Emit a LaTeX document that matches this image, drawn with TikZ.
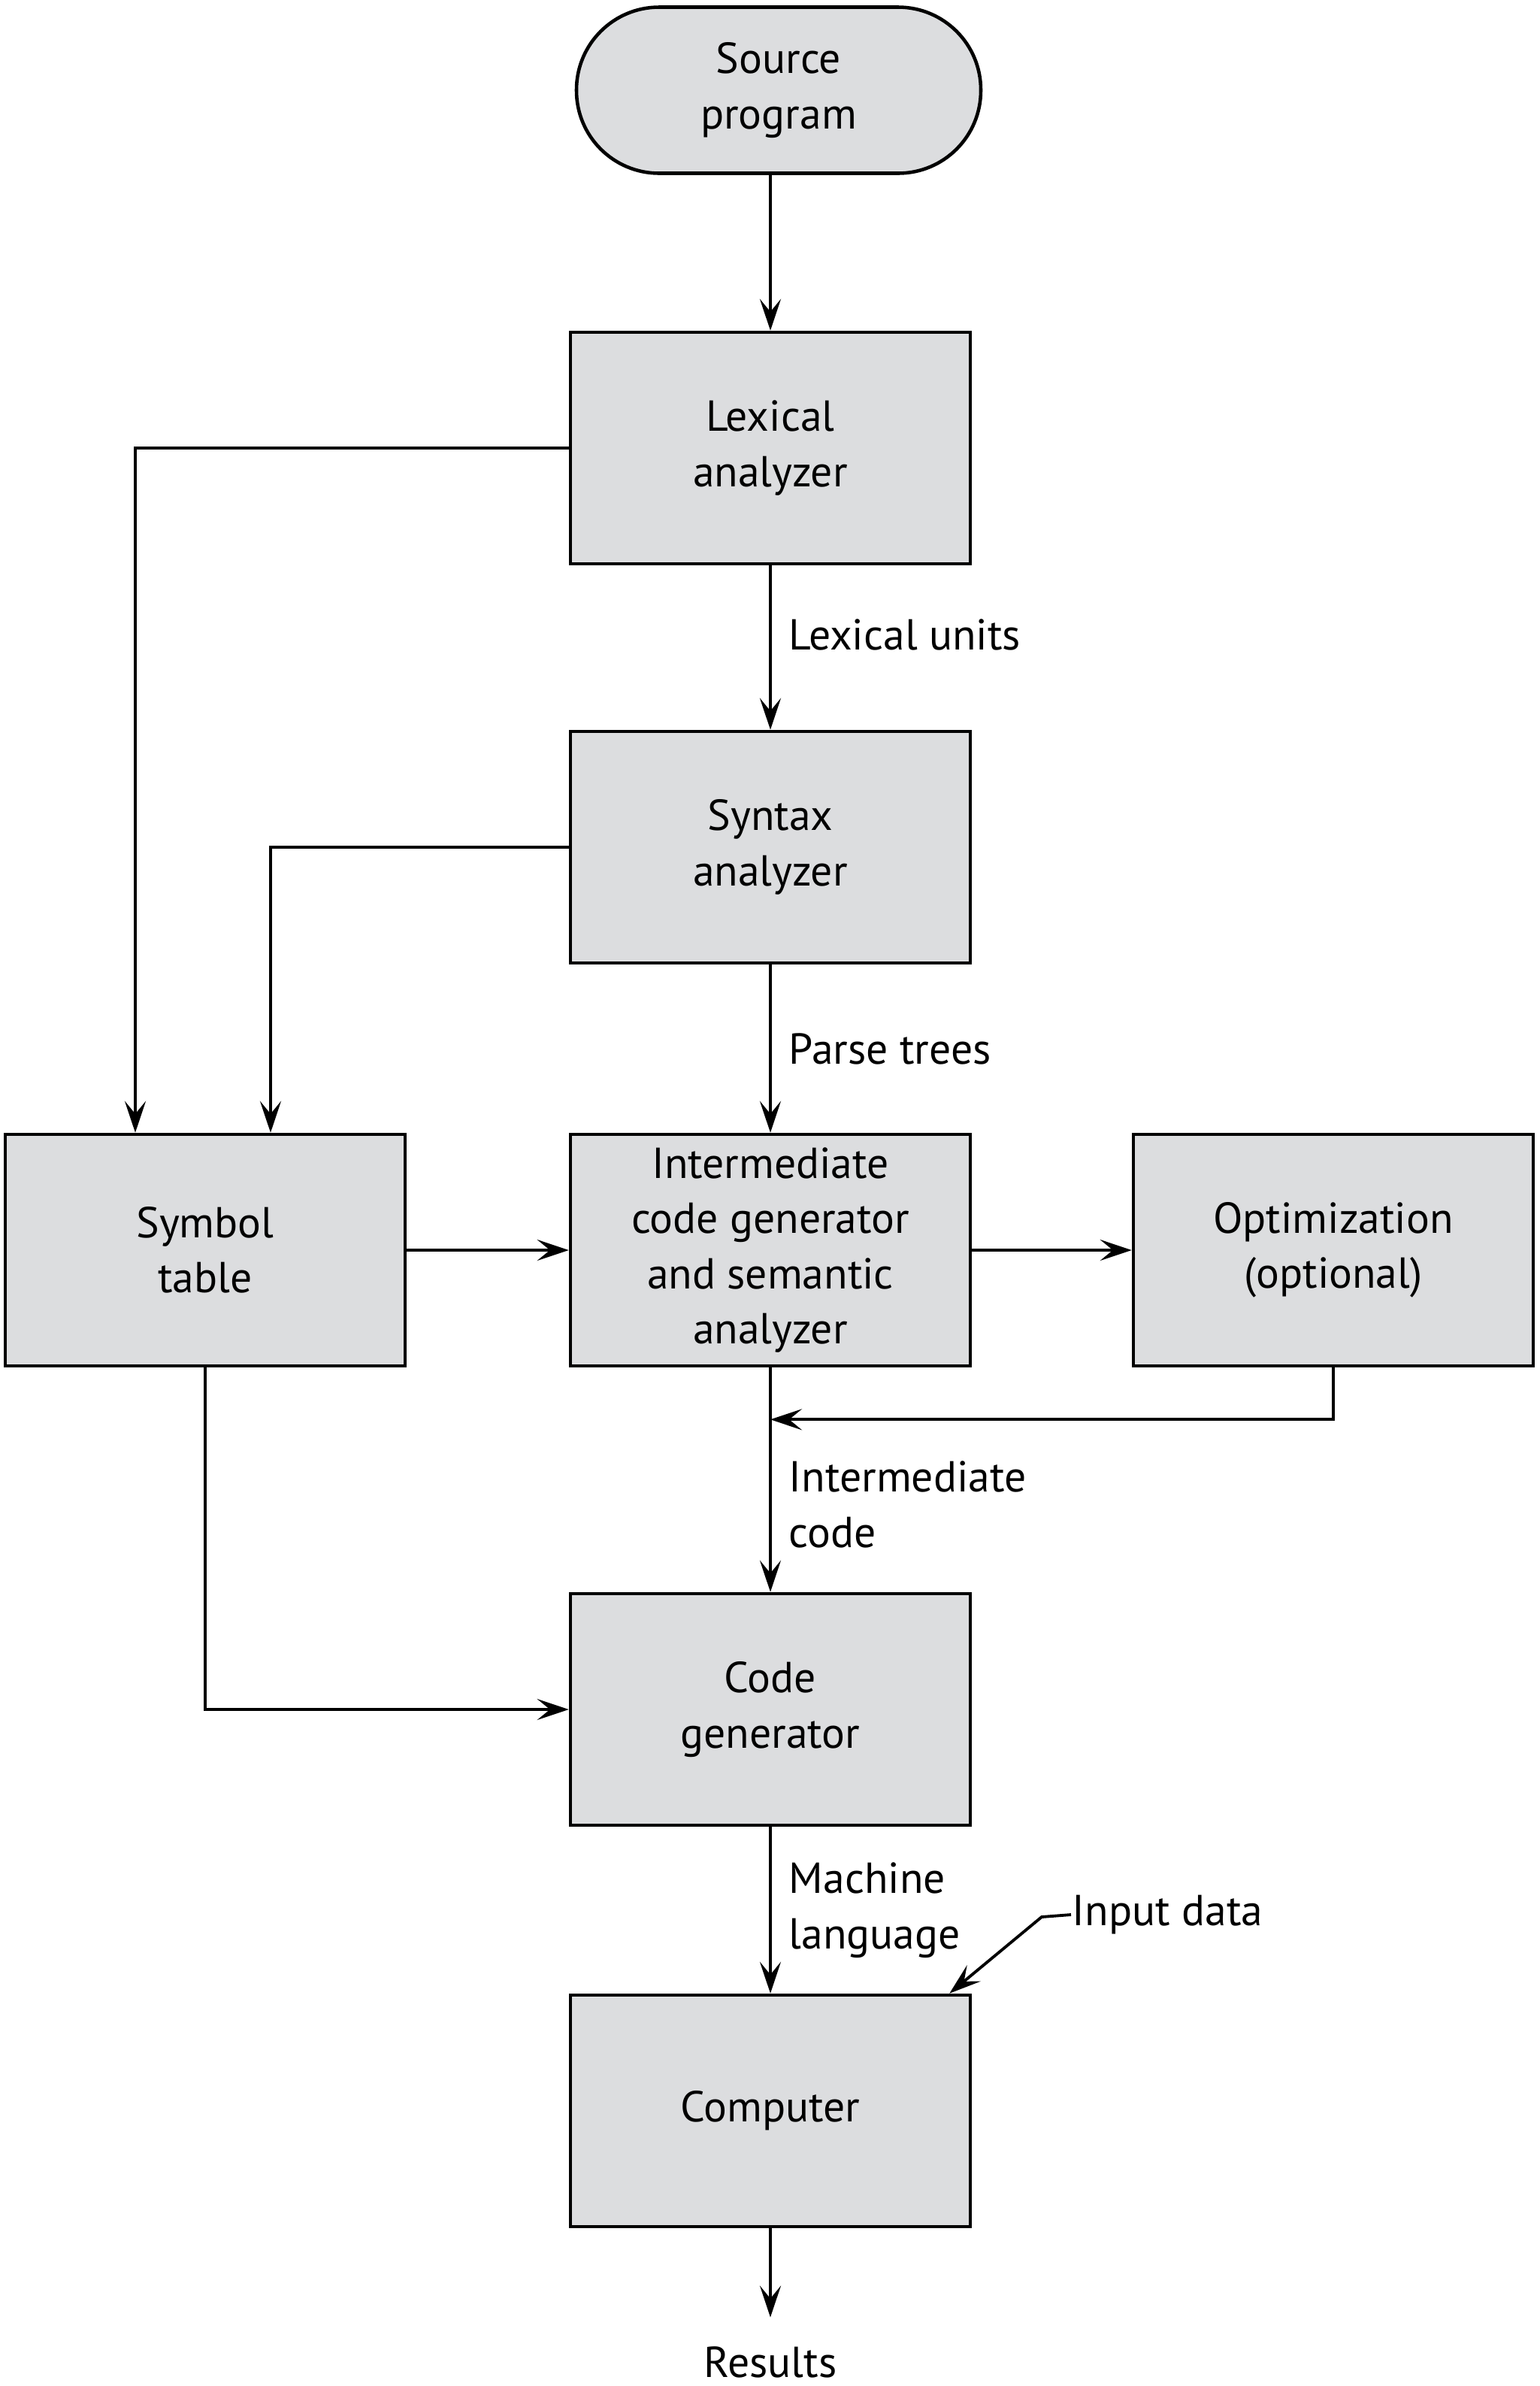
\documentclass[tikz,border=0pt]{standalone}
\usepackage{fontspec}
\setmainfont{PT Sans}
\usetikzlibrary{arrows.meta}
\definecolor{boxgray}{RGB}{220,221,223}
\begin{document}
\begin{tikzpicture}[
    font=\fontsize{16.4}{20.9}\selectfont,
    >={Stealth[length=4.2mm,width=2.8mm,inset=1.7mm]},
    every path/.style={line width=1.1pt},
    stage/.style={draw,line width=1.3pt,fill=boxgray,align=center,
        minimum width=5.32cm,minimum height=3.08cm},
    terminal/.style={stage,minimum width=5.38cm,minimum height=2.21cm,
        rounded corners=1.1cm},
    lbl/.style={anchor=west,align=left,inner sep=0pt,xshift=2.3mm}]
    \useasboundingbox (0,0) rectangle (20.48,-31.74);

    \node[terminal] (src)   at (10.36,-1.20)  {Source\\program};
    \node[stage]    (lex)   at (10.25,-5.96)  {Lexical\\analyzer};
    \node[stage]    (syn)   at (10.25,-11.27) {Syntax\\analyzer};
    \node[stage]    (sym)   at (2.73,-16.63)  {Symbol\\table};
    \node[stage]    (inter) at (10.25,-16.63) {Intermediate\\code generator\\and semantic\\analyzer};
    \node[stage]    (opt)   at (17.74,-16.63) {Optimization\\(optional)};
    \node[stage]    (cg)    at (10.25,-22.74) {Code\\generator};
    \node[stage]    (comp)  at (10.25,-28.08) {Computer};
    \node           (res)   at (10.25,-31.42) {Results};
    \node[anchor=west,inner sep=0pt] (inp) at (14.25,-25.47) {Input data};

    \coordinate (join) at ([yshift=-6.9mm]inter.south);
    \coordinate (kink) at (13.86,-25.50);

    % main flow
    \draw[->] (src.south -| lex.north) -- (lex.north);
    \draw[->] (lex) -- (syn) node[lbl,pos=0.42] {Lexical units};
    \draw[->] (syn) -- (inter) node[lbl,midway] {Parse trees};
    \draw[->] (inter) -- (cg) node[lbl,pos=0.61] {Intermediate\\code};
    \draw[->] (cg) -- (comp) node[lbl,midway] {Machine\\language};
    \draw[->,shorten >=2.5mm] (comp) -- (res);

    % symbol table links
    \draw[->] (lex.west) -| ([xshift=-9.3mm]sym.north);
    \draw[->] (syn.west) -| ([xshift=8.7mm]sym.north);
    \draw[->] (sym) -- (inter);
    \draw[->] (sym.south) |- (cg.west);

    % optimization loop
    \draw[->] (inter) -- (opt);
    \draw[->] (opt.south) |- (join);

    % input data
    \draw[->] (inp.west) -- (kink) -- ([xshift=-3mm]comp.north east);
\end{tikzpicture}
\end{document}
